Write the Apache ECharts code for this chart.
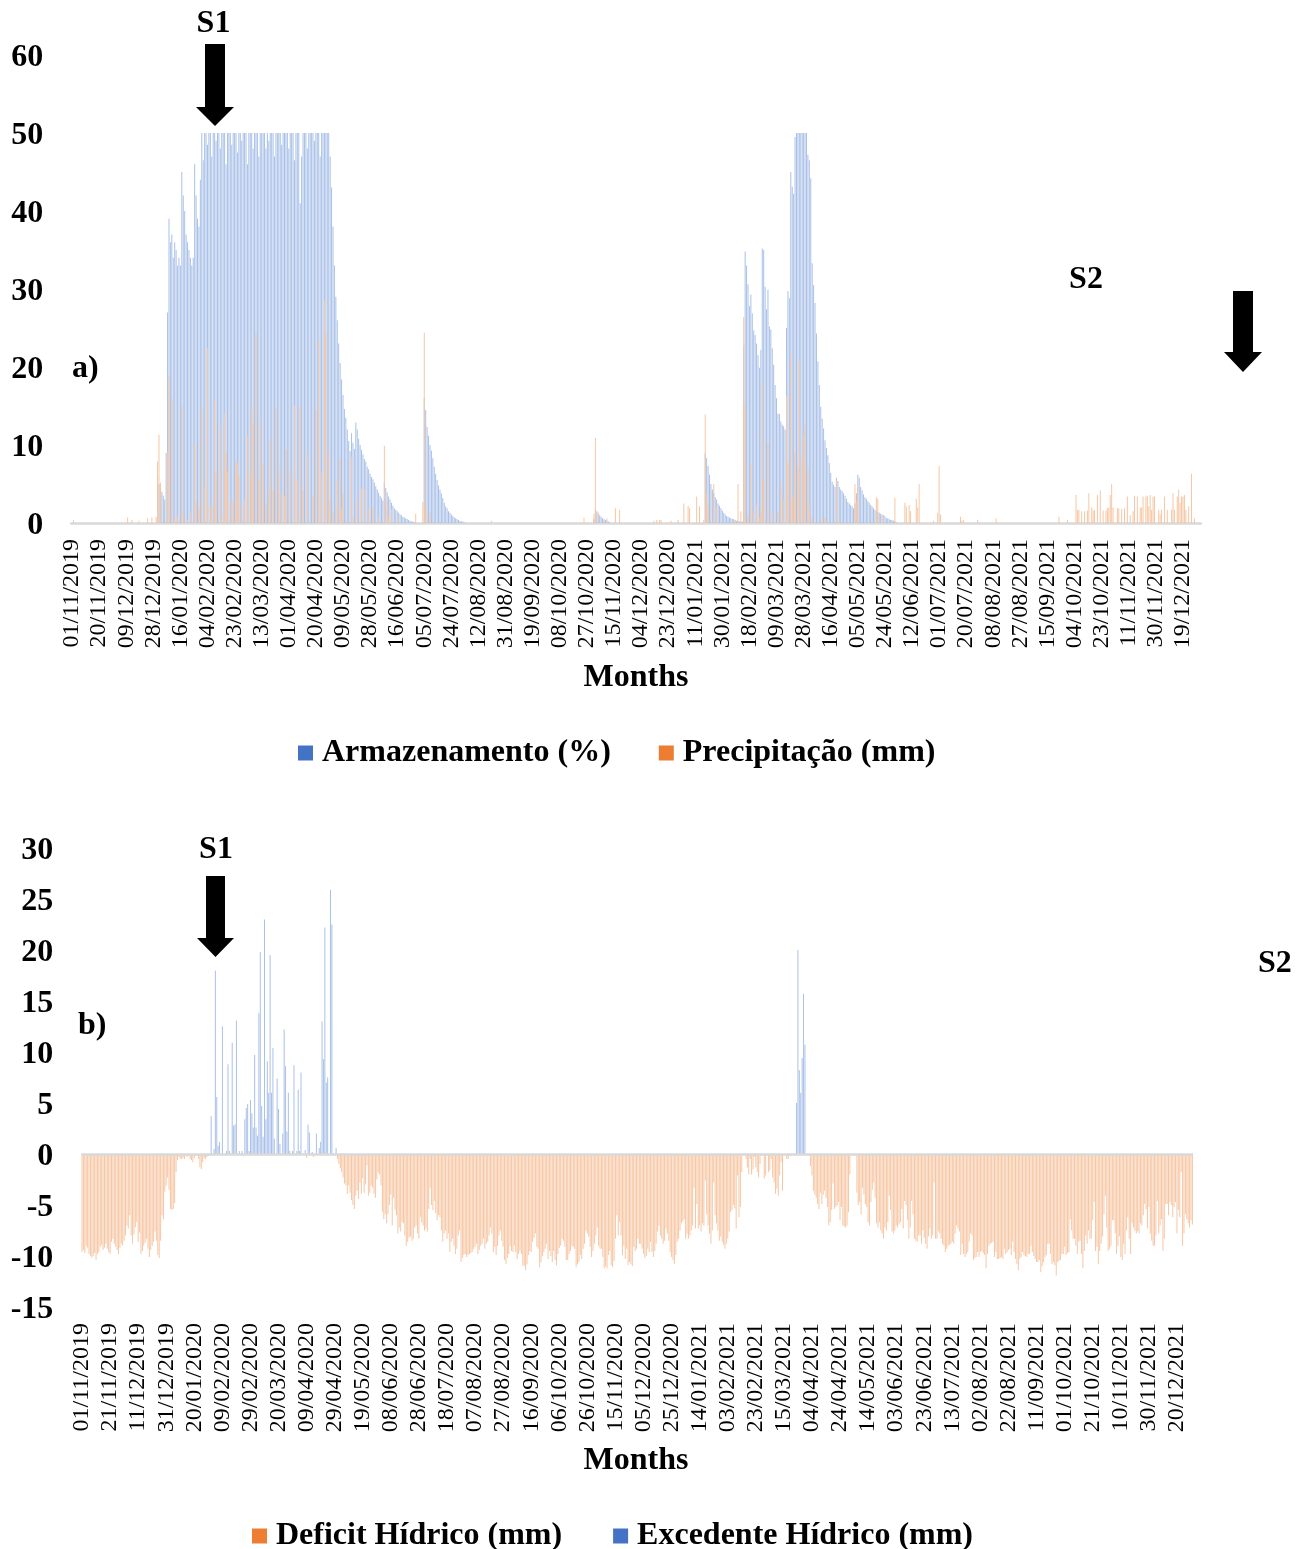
<!DOCTYPE html>
<html><head><meta charset="utf-8">
<script src="https://cdn.jsdelivr.net/npm/echarts@6/dist/echarts.min.js"></script>
<style>html,body{margin:0;padding:0;background:#fff}#c{width:1312px;height:1549px}</style>
</head><body><div id="c"></div>
<script>
// ---- Data (daily series, day 0 = 01/11/2019) ----
const DAY_COUNT = 792;
const ticksA = ['01/11/2019','20/11/2019','09/12/2019','28/12/2019','16/01/2020','04/02/2020','23/02/2020','13/03/2020','01/04/2020','20/04/2020','09/05/2020','28/05/2020','16/06/2020','05/07/2020','24/07/2020','12/08/2020','31/08/2020','19/09/2020','08/10/2020','27/10/2020','15/11/2020','04/12/2020','23/12/2020','11/01/2021','30/01/2021','18/02/2021','09/03/2021','28/03/2021','16/04/2021','05/05/2021','24/05/2021','12/06/2021','01/07/2021','20/07/2021','08/08/2021','27/08/2021','15/09/2021','04/10/2021','23/10/2021','11/11/2021','30/11/2021','19/12/2021'];
const ticksB = ['01/11/2019','21/11/2019','11/12/2019','31/12/2019','20/01/2020','09/02/2020','29/02/2020','20/03/2020','09/04/2020','29/04/2020','19/05/2020','08/06/2020','28/06/2020','18/07/2020','07/08/2020','27/08/2020','16/09/2020','06/10/2020','26/10/2020','15/11/2020','05/12/2020','25/12/2020','14/01/2021','03/02/2021','23/02/2021','15/03/2021','04/04/2021','24/04/2021','14/05/2021','03/06/2021','23/06/2021','13/07/2021','02/08/2021','22/08/2021','11/09/2021','01/10/2021','21/10/2021','10/11/2021','30/11/2021','20/12/2021'];

// Armazenamento (%) - runs of consecutive days (other days 0)
const armazenamentoSegments = [
 {start:60, values:[6,5,4.5,4,3.5,3,9,27,
  39,36,37,34,36,35,33,34,33,45,42,40,37,36,35,34,33,34,46,42,39,38,44,
  50,46.5,50,50,48.5,50,50,47,50,50, 49,50,50,48,50,50,50,46,50,50,
  50,48.5,50,50,50,47.5,50,50,49,50, 50,50,46,50,50,50,48,50,50,50,
  47,50,50,50,50,48,50,49,50,50, 50,47,50,50,50,50,48.5,50,50,50,
  50,48,50,50,50,46.5,50,50,50,41, 47,50,50,50,48,50,50,50,50,49,
  50,50,50,47,50,50,50,50,50,50,
  47,43,38,33,29,26,23,20.5,18.4,16.4, 14.6,13.5,12.0,10.5,9.2,11.5,10.3,9.5,12.9,12.0,
  10.8,10.0,9.4,8.8,8.2,7.9,7.2,6.9,6.3,5.9, 5.6,5.2,4.7,4.3,3.9,3.5,3.2,2.9,5.2,4.5,
  3.9,3.4,3.0,2.6,2.2,1.9,1.7,1.5,1.3,1.1, 1.0,0.8,0.7,0.6,0.5,0.4,0.3,0.2,0.2,0.1]},
 {start:247, values:[16.0,14.5,12.3,11.2,10.0,9.3,8.3,7.2,6.3,5.5,4.8,4.3,3.8,3.2,2.6,2.1,1.9,1.5,1.3,1.1,0.9,0.7,0.6,0.5,0.4,0.3,0.2,0.2,0.1]},
 {start:366, values:[0.5,1.8,1.5,1.2,1.0,0.8,0.6,0.5,0.4,0.3,0.2,0.1]},
 {start:444, values:[8.9,8.3,7.3,6.2,5.0,4.3,3.8,3.3,3.0,2.5,2.2,1.9,1.6,1.3,1.1,0.9,0.8,0.7,0.6,0.5,0.5,0.4,0.3,0.3,0.2,0.2,0.2,
  22.8,34.8,33.0,30.6,27.8,29.3,26.9,24.7,24.1,23.0,21.5,19.9,22.2,
  35.2,35.0,30.3,27.4,29.9,25.2,24.8,22.4,20.3,17.7,16.0,14.0,14.0,13.0,12.6,12.4,
  12.0,25.0,29.7,28.8,45.0,43.1,42.2,49.5,50,50, 50,50,50,50,50,50,47.2,46.5,44.2,33.3,
  30.5,28.2,24.3,20.7,17.7,14.9,13.4,12.1,10.6,9.6, 8.7,7.7,6.4,5.3,4.9,4.6,5.8,5.4,4.6,4.3,
  4.1,3.8,3.5,3.1,2.7,2.5,2.3,2.1,1.9,2.5, 3.8,6.2,5.8,4.6,4.2,3.7,3.3,3.1,2.8,2.6,
  2.3,2.1,1.9,1.7,1.5,1.4,1.3,1.2,1.1,1.0, 0.9,0.6,0.6,0.5,0.4,0.4,0.3,0.2,0.1]}
];

// Precipitação (mm) - [day, value] for rainy days
const precipitacaoDias = [
 [1,0.4],[39,0.7],[42,0.4],[47,0.3],[53,0.6],[56,0.7],[59,0.8],
 [60,7.9],[61,11.3],[62,5.2],[67,9.1],[68,18.8],[70,16.0],[72,0.6],[74,1.0],[77,15.1],[78,1.3],[81,0.4],[83,1.3],[86,10.2],[87,2.8],[89,2.0],
 [91,14.7],[93,4.6],[95,22.4],[97,2.1],[98,2.3],[100,15.6],[101,6.4],[104,12.3],[105,1.0],[107,14.0],[108,8.9],[109,6.6],
 [112,3.0],[113,2.5],[115,7.9],[116,7.7],[117,6.2],[119,2.1],[121,3.0],[123,11.1],[125,6.2],[126,14.9],[127,12.8],[129,24.3],
 [131,5.5],[132,13.0],[134,7.7],[136,2.5],[138,4.6],[139,10.6],[141,4.2],[143,14.7],[145,6.8],[147,3.8],[149,3.4],
 [150,9.4],[153,6.8],[156,15.1],[158,5.5],[160,14.9],[162,4.2],[165,8.9],[169,3.4],
 [171,14.5],[173,23.4],[175,6.4],[177,28.6],[178,24.3],[180,8.9],[181,3.0],[183,1.3],[186,5.4],[188,8.3],[189,1.8],
 [190,3.8],[196,8.5],[197,0.8],[200,3.0],[203,4.4],[205,4.4],[208,1.9],[211,1.9],[215,0.9],[219,9.9],
 [221,2.7],[222,0.7],[224,1.8],[229,0.7],[241,1.2],[246,2.7],[247,24.4],[248,2.1],[251,1.3],
 [294,0.3],[359,0.7],[366,1.2],[367,10.9],[369,1.3],[375,0.6],[381,1.9],[384,1.7],
 [408,0.3],[410,0.4],[412,0.4],[413,0.4],[420,0.3],[425,0.4],[429,2.5],[432,2.2],[433,1.9],[438,3.4],
 [440,2.1],[443,0.4],[444,13.9],[445,3.8],[446,2.3],[450,5.0],[452,2.1],[465,0.4],[467,5.0],[469,1.5],
 [471,26.4],[472,15.0],[474,1.0],[476,7.7],[478,1.5],[480,2.3],[482,0.6],[483,1.5],[484,18.1],[485,5.6],[488,10.2],
 [491,1.3],[495,1.5],[497,5.2],[499,3.0],[501,16.3],[502,7.7],[504,21.7],[505,3.0],[506,3.6],[507,9.0],[509,7.2],
 [510,20.9],[512,8.4],[513,11.3],[514,12.6],[516,7.2],[517,2.1],[519,0.8],[526,0.6],[528,0.6],[536,5.4],[538,0.4],
 [549,5.0],[550,2.8],[551,4.6],[564,3.3],[565,3.1],[569,1.0],[577,3.2],
 [584,2.6],[585,2.1],[587,2.3],[588,1.5],[592,3.1],[593,2.0],[594,5.0],[604,0.3],[607,1.3],[608,7.3],[609,1.1],
 [623,0.8],[624,0.3],[625,0.4],[635,0.4],[648,0.6],[692,0.8],[698,0.4],
 [704,3.6],[705,1.7],[706,1.7],[708,1.5],[710,1.5],[712,1.6],[713,3.8],[715,2.0],[716,1.6],[717,1.7],[719,3.6],
 [721,4.2],[723,1.6],[725,1.6],[726,1.9],[727,2.0],[728,3.6],[729,5.0],[730,2.0],[733,1.9],[734,1.9],[736,1.8],[738,1.9],
 [740,3.4],[742,1.0],[744,1.5],[745,3.5],[747,3.4],[749,2.0],[750,2.0],[751,3.4],[753,3.4],[754,3.5],[755,2.1],[756,3.6],[757,1.7],[758,3.4],[759,3.4],
 [762,1.7],[763,1.1],[764,1.7],[766,3.4],[768,1.7],[771,1.7],[772,3.8],[773,1.7],[775,3.4],[776,4.3],[777,2.6],[778,3.4],[779,3.4],
 [780,3.6],[781,1.7],[783,2.1],[785,6.3],[787,0.6]
];

// Deficit Hídrico (mm) - runs of consecutive days
const deficitSegments = [
 {start:0, values:[-9.6,-9.4,-9.7,-9.0,-9.2,-9.8,-10.0,-10.2,-10.0,-9.7,
  -10.4,-9.8,-9.6,-9.1,-8.9,-9.4,-9.2,-8.8,-9.3,-9.6, -9.8,-8.6,-8.3,-8.8,-9.1,-9.4,-9.8,-9.2,-8.8,-9.0,
  -8.5,-8.0,-7.0,-7.3,-6.0,-8.0,-8.8,-7.9,-7.2,-6.7, -8.6,-7.7,-9.8,-9.5,-9.0,-8.7,-8.3,-9.3,-10.1,-9.4,
  -9.0,-8.6,-7.6,-8.5,-9.9,-10.2,-8.5,-6.0,-6.4,-3.7, -3.1,-2.3,-3.5,-5.4,-5.5,-5.4,-4.8,-1.8,-0.6,-0.3,
  -0.5,-0.5,-0.4,-0.5,-0.2,-0.3,0,-0.5,-0.6,-0.8, -0.4,0,-0.2,-0.5,-1.3,-1.5,-0.8,-0.4,-0.5,-0.3, -0.2,0]},
 {start:160, values:[-0.4]},
 {start:165, values:[-0.3]},
 {start:182, values:[-0.5,-1.0,-1.4,-1.8,-2.3,-2.9,-3.1,-3.9,-3.1,-3.8,
  -4.5,-5.0,-5.4,-4.1,-3.6,-4.4,-2.8,-3.9,-2.4,-3.8, -3.0,-1.1,-4.1,-3.8,-3.1,-3.3,-3.9,-4.3,-2.5,-1.8,
  -2.0,-3.1,-5.7,-6.4,-5.9,-6.8,-5.9,-5.0,-4.0,-7.0, -4.3,-5.5,-6.0,-7.8,-7.2,-7.6,-6.7,-6.8,-8.0,-9.0,
  -8.6,-8.2,-8.1,-8.5,-8.3,-7.2,-7.0,-7.8,-8.3,-6.2, -6.7,-7.0,-7.5,-7.3,-7.6,-5.4,-3.3,-5.0,-5.5,-4.6,
  -5.8,-6.5,-6.0,-6.2,-7.5,-8.6,-7.8,-7.5,-8.3,-7.8, -9.6,-8.6,-8.3,-9.0,-9.8,-9.3,-8.0,-7.5,-10.6,-10.2,
  -9.9,-9.8,-10.1,-9.9,-9.8,-9.7,-9.6,-9.3,-9.1,-8.8, -9.8,-9.4,-9.0,-8.8,-8.3,-9.3,-8.8,-8.6,-8.0,-7.2,
  -7.8,-9.6,-9.1,-9.9,-9.0,-8.0,-7.5,-8.5,-9.1,-10.4, -10.8,-10.2,-9.8,-9.0,-9.5,-9.6,-9.0,-9.6,-10.3,-9.8,
  -9.5,-9.8,-10.9,-11.0,-11.4,-10.8,-9.9,-9.5,-9.6,-8.6, -8.2,-7.8,-9.1,-9.3,-11.1,-10.6,-10.0,-9.6,-9.3,-8.8,
  -10.3,-9.5,-10.0,-10.6,-9.5,-10.4,-10.9,-9.8,-9.2,-9.0, -8.3,-8.5,-9.1,-10.4,-10.4,-9.8,-9.5,-9.0,-9.1,-9.3,
  -11.1,-10.8,-10.6,-9.9,-10.3,-9.3,-8.8,-7.5,-7.8,-8.1, -9.1,-10.1,-9.5,-8.8,-8.0,-7.2,-9.0,-9.3,-9.3,-10.1,
  -11.2,-11.0,-11.2,-9.9,-9.5,-10.9,-11.1,-10.5,-8.3,-6.0, -8.0,-6.7,-8.0,-9.9,-9.0,-10.3,-9.3,-10.9,-10.6,-10.8,
  -11.0,-9.1,-9.5,-9.3,-8.3,-8.8,-8.8,-9.3,-9.8,-10.2, -10.0,-9.3,-9.6,-8.6,-9.6,-10.1,-9.5,-8.8,-7.6,-7.0,
  -8.0,-8.3,-8.8,-8.5,-7.3,-7.8,-8.5,-9.6,-10.1,-10.4, -10.8,-9.9,-8.6,-8.3,-7.5,-6.8,-6.6,-6.4,-8.3,-7.8,
  -8.3,-8.0,-7.5,-7.0,-3.3,-7.3,-4.9,-7.3,-7.0,-7.6, -6.8,-7.0,-2.6,-5.9,-7.0,-7.8,-8.8,-7.5,-2.8,-6.0,
  -6.8,-7.5,-8.5,-8.1,-8.6,-8.9,-9.3,-8.8,-8.3,-7.6, -5.7,-5.5,-5.0,-5.3,-7.3,-2.1,-6.2,-5.2,-1.8]},
 {start:473, values:[-0.5,-1.3,-2.0,-0.5,-2.0,-1.5,-0.3,-1.3,-1.8,-2.3,
  -1.0,-0.2,0,-2.4,-2.1,0,-1.8,-1.6,-0.5,-2.3, -2.8,-3.9,-3.4,-4.1,-2.1,-0.8,-3.6,0,0,-0.5, -0.5,0,-0.2]},
 {start:518, values:[-0.2,-1.2,-2.1,-3.6,-4.0,-4.3,-4.9,-5.4,-3.8,-4.9,
  -4.0,-3.6,-4.3,-5.2,-7.0,-6.7,-5.5,-2.9,-5.4,-5.2, -5.0,-4.7,-6.5,-5.2,-7.0,-7.1,-7.2,-7.0,-5.7,-2.0,
  0,0,0,0,-3.8,-5.0,-4.7,-5.9,-3.3,-4.0, -4.9,-5.2,-6.7,-7.0,-4.7,-3.5,-2.8,-4.3,-6.8,-7.2,
  -6.7,-7.5,-7.8,-8.3,-7.2,-7.5,-6.7,-4.1,-5.5,-7.6, -7.8,-7.5,-7.0,-7.2,-6.9]},
 {start:583, values:[-6.7,-5.4,-7.3,-4.6,-5.0,-6.5, -8.3,-7.2,-4.6,-5.9,-8.3,-8.5, -8.6,-8.0,-8.0,-8.8,-7.5,-8.2,
  -8.8,-9.3,-8.1,-7.3,-8.3,-8.0, -2.8,-8.3,-8.3,-7.6,-7.8,-8.3, -8.8,-9.0,-9.6,-9.3,-9.0,-8.9,
  -8.8,-8.6,-8.8,-7.8,-7.0,-7.3, -7.6,-9.9,-8.8,-9.8,-10.1,-9.8, -9.6,-8.6,-7.8,-8.0,-10.4,-10.2,
  -10.1,-9.6,-10.1,-9.6,-9.5,-9.7, -9.9,-11.2,-9.8,-9.0,-8.8,-8.7, -8.6,-10.1,-9.6,-10.3,-10.3,-10.2,
  -10.1,-10.3,-9.3,-9.8,-9.6,-9.4, -9.3,-9.9,-8.6,-9.6,-10.3,-10.8, -11.4,-10.3,-10.1,-9.6,-9.9,-10.0,
  -10.1,-9.8,-9.8,-9.0,-9.6,-10.0, -10.3,-10.6,-10.6,-10.4,-11.6,-11.0, -10.6,-10.1,-9.9,-8.8,-8.8,-9.8,
  -10.8,-10.6,-10.9,-11.9,-10.6,-10.5, -10.4,-9.8,-9.8,-9.1,-9.9,-9.7, -9.6,-6.4,-7.5,-8.3,-8.3,-9.0,
  -9.8,-8.6,-8.5,-9.8,-11.2,-9.5, -8.0,-8.8,-7.5,-8.3,-8.3,-6.5, -4.7,-9.5,-9.1,-10.8,-9.5,-8.8,
  -8.1,-5.9,-4.1,-7.2,-9.5,-9.3, -9.0,-6.5,-6.5,-7.8,-9.8,-9.0, -8.1,-10.1,-10.4,-8.8,-9.8,-7.5,
  -6.2,-8.3,-9.8,-6.8,-7.2,-7.5, -7.8,-7.6,-7.8,-6.8,-7.0,-6.0, -4.9,-5.4,-7.3,-5.2,-7.8,-8.5,
  -9.0,-9.0,-8.0,-4.6,-7.8,-7.0, -6.4,-9.5,-8.3,-4.9,-4.9, -6.0,-4.7,-5.0,-6.2,-5.2,
  -4.7,-7.8,-5.5,-6.2,-1.8, -9.0,-7.8,-5.9,-6.4,-6.8, -7.2,-6.5,-6.9]}
];

// Excedente Hídrico (mm) - [day, value]
const excedenteDias = [
 [92,3.7],[94,0.5],[95,18],[96,5.6],[97,0.8],[98,1.2],[100,12.5],[103,0.3],[104,8.8],[105,0.3],[107,10.9],[108,2.8],[109,2.9],
 [110,13.1],[112,0.3],[114,0.3],[116,3.4],[117,4.5],[118,4.9],[119,0.3],[120,5.3],[121,4.0],[122,2.6],[123,9.7],[124,2.6],[125,1.8],
 [126,13.8],[127,19.8],[128,4.7],[129,1.7],[130,23.0],[131,3.4],[132,9.1],[133,6.0],[134,19.5],[135,6.0],[136,10.4],[137,1.5],
 [139,7.4],[140,4.4],[141,1.0],[143,2.0],[144,12.2],[145,8.6],[146,2.2],[147,6.0],[148,0.3],[150,0.3],[151,8.7],[153,0.3],[154,6.3],
 [155,0.3],[156,8.0],[159,0.4],[161,2.9],[162,2.1],[164,0.2],[167,2.0],[169,0.6],[170,1.2],[171,13],[172,9.3],[173,22.2],[174,7.0],
 [175,7.5],[177,25.9],[178,22.5],[181,0.6],
 [509,5.0],[510,20.0],[511,8.2],[512,6.0],[513,9.4],[514,15.7],[515,10.7]
];

// ---- Build ----
function pad(n){return (n<10?'0':'')+n;}
const days = [];
for (let i=0;i<DAY_COUNT;i++){const d=new Date(Date.UTC(2019,10,1+i));days.push(pad(d.getUTCDate())+'/'+pad(d.getUTCMonth()+1)+'/'+d.getUTCFullYear());}
function fromSegments(segs){const a=new Array(DAY_COUNT).fill(0);segs.forEach(s=>s.values.forEach((v,i)=>{if(s.start+i<DAY_COUNT)a[s.start+i]=v;}));return a;}
function fromPairs(p){const a=new Array(DAY_COUNT).fill(0);p.forEach(([d,v])=>{a[d]=v;});return a;}
const armazenamento=fromSegments(armazenamentoSegments);
const precipitacao=fromPairs(precipitacaoDias);
const deficit=fromSegments(deficitSegments);
const excedente=fromPairs(excedenteDias);
const setA=new Set(ticksA), setB=new Set(ticksB);

const SERIF='"Liberation Serif","Times New Roman",serif';
const BOLD='bold 32px '+SERIF;
const BLUE='#4472C4', ORANGE='#ED7D31';
const BLUE_BAR='#a9c0e8', ORANGE_BAR='#f7c6a3';

const chart=echarts.init(document.getElementById('c'),null,{renderer:'canvas'});
const yLab={fontFamily:SERIF,fontWeight:'bold',fontSize:32,color:'#000',margin:28,
  formatter:'{v|{value}}',rich:{v:{fontFamily:SERIF,fontWeight:'bold',fontSize:32,color:'#000',padding:[6,0,0,0]}}};
const xLab=(set)=>({interval:(i,v)=>set.has(v),rotate:90,fontFamily:SERIF,fontSize:24,color:'#000',margin:16});

function txt(x,y,t,align){return {type:'text',x:x,y:y,silent:true,style:{text:t,font:BOLD,fill:'#000',textAlign:align||'center',textVerticalAlign:'middle'}};}
function arrow(pts){return {type:'polygon',silent:true,shape:{points:pts},style:{fill:'#000'}};}
const legText={fontFamily:SERIF,fontWeight:'bold',fontSize:32,color:'#000',lineHeight:32,padding:[0,0,0,4]};

chart.setOption({
 animation:false,
 backgroundColor:'#fff',
 grid:[
  {left:71.3,top:55,width:1129.5,height:468,outerBoundsMode:'none',containLabel:false},
  {left:81.3,top:848,width:1111.8,height:459,outerBoundsMode:'none',containLabel:false}
 ],
 xAxis:[
  {type:'category',gridIndex:0,data:days,boundaryGap:true,axisTick:{show:false},
   axisLine:{show:true,lineStyle:{color:'#d9d9d9',width:2.5}},axisLabel:xLab(setA),splitLine:{show:false}},
  {type:'category',gridIndex:1,data:days,boundaryGap:true,axisTick:{show:false},
   axisLine:{show:false,onZero:false},axisLabel:xLab(setB),splitLine:{show:false}}
 ],
 yAxis:[
  {type:'value',gridIndex:0,min:0,max:60,interval:10,axisLine:{show:false},axisTick:{show:false},splitLine:{show:false},axisLabel:yLab},
  {type:'value',gridIndex:1,min:-15,max:30,interval:5,axisLine:{show:false},axisTick:{show:false},splitLine:{show:false},axisLabel:yLab}
 ],
 legend:[
  {left:298,top:737,padding:0,itemWidth:15,itemHeight:15,itemGap:48,icon:'rect',selectedMode:false,
   textStyle:legText,
   data:[{name:'Armazenamento (%)',itemStyle:{color:BLUE}},{name:'Precipitação (mm)',itemStyle:{color:ORANGE}}]},
  {left:252,top:1520,padding:0,itemWidth:15,itemHeight:15,itemGap:51,icon:'rect',selectedMode:false,
   textStyle:legText,
   data:[{name:'Deficit Hídrico (mm)',itemStyle:{color:ORANGE}},{name:'Excedente Hídrico (mm)',itemStyle:{color:BLUE}}]}
 ],
 series:[
  {name:'Armazenamento (%)',type:'bar',xAxisIndex:0,yAxisIndex:0,data:armazenamento,barWidth:1,barGap:'-100%',silent:true,itemStyle:{color:BLUE_BAR}},
  {name:'Precipitação (mm)',type:'bar',xAxisIndex:0,yAxisIndex:0,data:precipitacao,barWidth:1,barGap:'-100%',silent:true,itemStyle:{color:ORANGE_BAR}},
  {name:'Deficit Hídrico (mm)',type:'bar',xAxisIndex:1,yAxisIndex:1,data:deficit,barWidth:1,barGap:'-100%',silent:true,itemStyle:{color:ORANGE_BAR},
   markLine:{silent:true,symbol:['none','none'],label:{show:false},lineStyle:{color:'#d9d9d9',width:2.5,type:'solid'},data:[{yAxis:0}]}},
  {name:'Excedente Hídrico (mm)',type:'bar',xAxisIndex:1,yAxisIndex:1,data:excedente,barWidth:1,barGap:'-100%',silent:true,itemStyle:{color:BLUE_BAR}}
 ],
 graphic:[
  txt(213.5,24,'S1'),
  arrow([[205,44],[225,44],[225,107],[234,107],[215,126],[196,107],[205,107]]),
  txt(1086,280,'S2'),
  arrow([[1233,291],[1253,291],[1253,352],[1262,352],[1243,372],[1224,352],[1233,352]]),
  txt(72,369,'a)','left'),
  txt(636,678,'Months'),
  txt(216,850,'S1'),
  arrow([[206,876],[225,876],[225,938],[234,938],[215.5,957],[197,938],[206,938]]),
  txt(1258,964,'S2','left'),
  txt(78,1026,'b)','left'),
  txt(636,1461,'Months')
 ]
});
</script>
</body></html>
